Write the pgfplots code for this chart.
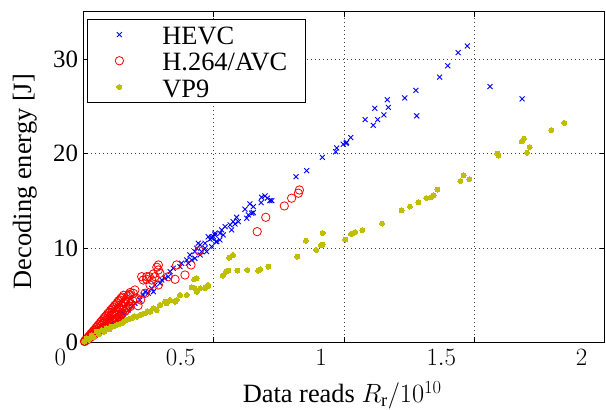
\documentclass[border=0pt]{standalone}
\usepackage{fix-cm}
\usepackage{fontspec}
\setmainfont{Liberation Serif}
\usepackage{pgfplots}
\pgfplotsset{compat=1.18}
\definecolor{vpcol}{rgb}{0.75,0.75,0}
\newcommand{\lblfont}{\fontsize{26.5}{30}\selectfont}
\newcommand{\tckfont}{\fontsize{25}{30}\selectfont}
\begin{document}
\begin{tikzpicture}
\begin{axis}[
  scale only axis, width=521.4bp, height=330.5bp,
  xmin=0, xmax=2, ymin=0, ymax=35,
  clip=false,
  axis line style={line width=1bp, black},
  tick align=inside, major tick length=5bp,
  tick style={black, line width=0.8bp},
  grid=major,
  grid style={line width=0.8bp, dash pattern=on 0.8bp off 3.2bp, black!75},
  xtick={0,0.5,1,1.5,2},
  xticklabels={{$0$},{\makebox[0pt]{$0.5$\kern20bp}},{$1$},{\makebox[0pt]{$1.5$\kern20bp}},{$2$}},
  ytick={0,10,20,30}, yticklabels={0,10,20,30},
  xticklabel style={font=\tckfont, anchor=base, xshift=-23bp, yshift=-23.5bp, inner sep=0pt},
  yticklabel style={font=\tckfont, anchor=east, xshift=-5bp, inner sep=0pt},
  xlabel={Data reads $R_\mathrm{r}/10^{10}$},
  xlabel style={font=\lblfont, at={(axis description cs:0.4966,-0.183)}, anchor=base, inner sep=0pt},
  ylabel={Decoding energy [J]},
  ylabel style={font=\lblfont, at={(axis description cs:-0.1002,0.487)}, anchor=base, inner sep=0pt},
  legend style={at={(axis description cs:0.0071,0.9788)}, anchor=north west,
    draw=black, line width=0.8bp, fill=white, inner xsep=0pt, inner ysep=2.05bp,
    row sep=0pt, column sep=0pt, font=\lblfont,
    nodes={inner sep=0pt, text height=23.25bp, text depth=2.95bp, text width=143bp, align=left},
    cells={anchor=west}},
  legend image code/.code={\path[draw=none, fill=none] (0bp,-13bp) rectangle (75bp,13bp); \draw[#1] plot coordinates {(32bp,0bp)};},
]
% HEVC
\addplot[only marks, mark=x, mark size=3.5bp, blue, mark options={line width=0.9bp}] coordinates {
(0.019,0.26) (0.038,0.61) (0.058,0.97) (0.077,1.32) (0.096,1.67) (0.109,2.03)
(0.128,2.38) (0.141,2.67) (0.153,3.09) (0.173,3.44) (0.186,3.79) (0.198,4.15)
(0.217,4.50) (0.230,5.03) (0.237,5.38) (0.249,5.21) (0.269,5.38) (0.262,5.74)
(0.275,6.09) (0.294,6.27) (0.301,6.62) (0.313,6.80) (0.326,6.97) (0.333,7.50)
(0.345,7.86) (0.371,8.03) (0.377,8.39) (0.403,8.39) (0.397,8.74) (0.409,9.27)
(0.428,9.62) (0.435,9.98) (0.448,10.33) (0.467,10.51) (0.479,11.20) (0.4925,11.04)
(0.505,11.39) (0.512,10.68) (0.416,8.74) (0.428,8.92) (0.448,9.27) (0.441,10.51)
(0.454,9.62) (0.473,9.62) (0.467,9.98) (0.4925,10.15) (0.509,10.68) (0.524,10.86)
(0.486,10.93) (0.493,11.14) (0.499,11.21) (0.537,11.39) (0.524,11.57) (0.505,11.57)
(0.531,11.92) (0.544,12.27) (0.569,11.92) (0.563,12.45) (0.582,12.55) (0.575,12.80)
(0.595,12.80) (0.588,13.26) (0.627,13.16) (0.633,13.51) (0.646,13.69) (0.652,13.75)
(0.620,14.11) (0.639,14.67) (0.652,14.39) (0.682,14.81) (0.716,15.02) (0.723,15.02)
(0.706,15.28) (0.684,15.38) (0.697,15.52) (0.816,17.56) (0.857,18.2) (0.917,19.6)
(0.968,20.2) (0.972,20.6) (0.997,21.0) (1.008,21.1) (1.010,21.2) (1.026,21.7)
(1.081,23.6) (1.112,23.0) (1.129,23.6) (1.118,24.8) (1.153,24.1) (1.170,24.9)
(1.166,25.7) (1.233,25.9) (1.276,26.7) (1.279,24.0) (1.367,28.1) (1.398,29.3)
(1.438,30.7) (1.473,31.4) (1.560,27.1) (1.683,25.8)
};
\addlegendentry{HEVC}
% H.264/AVC
\addplot[only marks, mark=o, mark size=4.2bp, red, mark options={line width=0.8bp}] coordinates {
(0.005,0.1) (0.005,0.15) (0.01,0.2) (0.01,0.3) (0.015,0.3) (0.015,0.45)
(0.02,0.4) (0.02,0.6) (0.025,0.5) (0.025,0.75) (0.03,0.6) (0.03,0.8) (0.03,0.95)
(0.035,0.7) (0.035,1.1) (0.04,0.8) (0.04,1.0) (0.04,1.25) (0.045,0.9) (0.045,1.4)
(0.05,1.0) (0.05,1.3) (0.05,1.6) (0.055,1.1) (0.055,1.75) (0.06,1.2) (0.06,1.5)
(0.06,1.9) (0.065,1.3) (0.065,2.1) (0.07,1.4) (0.07,1.8) (0.07,2.25) (0.075,1.5)
(0.075,2.0) (0.075,2.4) (0.08,1.6) (0.08,2.1) (0.08,2.6) (0.085,1.7) (0.085,2.3)
(0.085,2.75) (0.09,1.8) (0.09,2.4) (0.09,2.9) (0.095,1.9) (0.095,2.6) (0.095,3.1)
(0.1,2.0) (0.1,2.5) (0.1,3.2) (0.105,2.1) (0.105,2.8) (0.105,3.4) (0.11,2.2)
(0.11,3.0) (0.11,3.55) (0.115,2.3) (0.115,3.1) (0.115,3.7) (0.12,2.4) (0.12,3.3)
(0.12,3.9) (0.125,2.5) (0.125,3.0) (0.125,4.0) (0.13,2.6) (0.13,3.5) (0.13,4.2)
(0.135,2.7) (0.135,3.7) (0.135,4.4) (0.14,2.8) (0.14,3.6) (0.14,4.5) (0.145,3.0)
(0.145,4.0) (0.145,4.7) (0.15,3.1) (0.15,3.8) (0.15,4.8) (0.155,4.2) (0.155,5.0)
(0.16,3.3) (0.16,4.3) (0.165,3.5) (0.165,4.6) (0.17,3.7) (0.17,4.9) (0.175,3.9)
(0.175,5.1) (0.18,4.1) (0.18,5.3) (0.19,4.4) (0.2,4.6) (0.21,3.9) (0.22,4.5)
(0.829,16.15) (0.825,15.81) (0.799,15.28) (0.771,14.46) (0.700,13.26) (0.667,11.74)
(0.445,9.69) (0.413,8.21) (0.358,8.21) (0.390,7.15) (0.352,6.69) (0.326,6.97)
(0.288,8.21) (0.282,7.97) (0.288,7.68) (0.294,7.33) (0.269,7.26) (0.275,6.97)
(0.253,6.97) (0.243,6.97) (0.262,6.62) (0.230,6.62) (0.224,6.97) (0.243,6.69)
(0.256,6.09) (0.288,6.09) (0.237,5.21) (0.198,5.56) (0.192,5.21) (0.179,5.03)
(0.205,4.68) (0.173,4.32) (0.160,4.32) (0.179,3.79) (0.153,3.44) (0.147,2.91)
(0.128,2.91)
};
\addlegendentry{H.264/AVC}
% VP9
\addplot[only marks, mark=*, mark size=2.5bp, vpcol, mark options={draw=vpcol, fill=vpcol, line width=0pt}] coordinates {
(0.005,0.1) (0.013,0.44) (0.022,0.3) (0.032,0.79) (0.04,0.55) (0.051,1.14)
(0.06,0.85) (0.071,1.32) (0.08,1.15) (0.090,1.50) (0.1,1.4) (0.109,1.67)
(0.118,1.7) (0.128,1.85) (0.138,1.95) (0.147,2.03) (0.156,2.2) (0.166,2.38)
(0.176,2.5) (0.186,2.56) (0.195,2.8) (0.205,2.73) (0.217,2.91) (0.226,3.0)
(0.237,3.09) (0.245,3.3) (0.256,3.26) (0.269,3.62) (0.282,3.44) (0.294,3.97)
(0.320,4.15) (0.313,4.32) (0.352,4.32) (0.333,4.50) (0.358,4.50) (0.371,5.03)
(0.397,5.03) (0.435,5.38) (0.416,5.85) (0.428,5.74) (0.448,5.74) (0.467,5.85)
(0.479,5.99) (0.467,5.74) (0.479,6.09) (0.425,6.69) (0.435,6.80) (0.535,7.08)
(0.547,7.50) (0.556,7.61) (0.591,7.61) (0.629,7.68) (0.671,7.61) (0.678,7.75)
(0.710,8.03) (0.560,8.98) (0.575,9.27) (0.821,9.09) (0.893,9.80) (0.854,10.78)
(0.911,10.3) (0.918,10.36) (0.918,11.6) (1.005,10.9) (1.027,11.5) (1.036,11.6)
(1.043,11.7) (1.070,11.9) (1.146,12.6) (1.221,14.0) (1.253,14.4) (1.285,14.85)
(1.316,15.3) (1.334,15.4) (1.344,15.6) (1.358,16.2) (1.446,17.1) (1.459,17.7)
(1.481,17.3) (1.588,20.0) (1.592,19.8) (1.682,21.3) (1.690,21.6) (1.712,20.7)
(1.702,20.1) (1.795,22.5) (1.845,23.25)
};
\addlegendentry{VP9}
\end{axis}
\path ([shift={(-83.3bp,-65.5bp)}]current axis.south west) rectangle ([shift={(1.3bp,12bp)}]current axis.north east);
\end{tikzpicture}
\end{document}
